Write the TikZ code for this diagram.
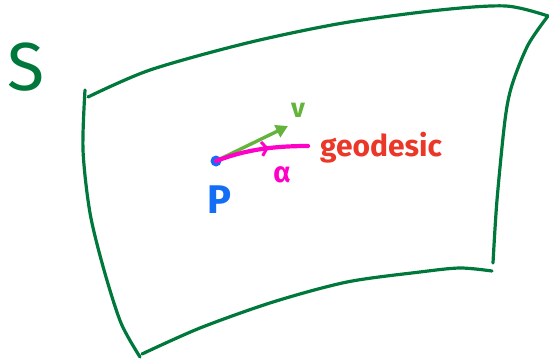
\documentclass[tikz,border=0pt]{standalone}
\usepackage{fontspec}
\setmainfont{Fira Sans}
\usepackage{xcolor}
\definecolor{SurfGreen}{RGB}{0,120,60}
\definecolor{VecGreen}{RGB}{100,180,60}
\definecolor{PointBlue}{RGB}{20,110,245}
\definecolor{CurveMagenta}{RGB}{255,0,200}
\definecolor{LabelRed}{RGB}{235,55,40}
\usetikzlibrary{arrows.meta,decorations.markings,calc}

\begin{document}
\begin{tikzpicture}[x=1pt,y=-1pt,line cap=round,line join=round,
  edge/.style={draw=SurfGreen,line width=3.2pt},
  hand/.style={inner sep=0pt,font=\bfseries\fontsize{#1}{#1}\selectfont}]
  \useasboundingbox (0,0) rectangle (549,360);
  \draw[edge] plot[smooth] coordinates {(88,97) (150,70) (247,43) (343,23) (440,10) (506,6) (548,16)};
  \draw[edge] plot[smooth] coordinates {(85,90) (83,150) (90,213) (104,270) (121,323) (140,357)};
  \draw[edge] plot[smooth] coordinates {(142,354) (200,328) (273,302) (347,282) (420,272) (460,268) (492,271)};
  \draw[edge] plot[smooth] coordinates {(548,16) (528,45) (512,85) (505,120) (497,200) (493,263)};
  \node[hand=68,SurfGreen,font=\mdseries\fontsize{68}{68}\selectfont] (S) at (26,67) {S};
  \node[circle,fill=PointBlue,inner sep=0pt,minimum size=11pt] (pdot) at (216,161) {};
  \coordinate (vtip) at (288,126);
  \coordinate (gend) at (308,146);
  \draw[VecGreen,line width=3.4pt,-{Triangle[length=12pt,width=13pt]}] (pdot.center) -- (vtip);
  \draw[CurveMagenta,line width=4.2pt,
    postaction={decorate,decoration={markings,
      mark=at position 0.58 with {\arrow[line width=3pt]{Straight Barb[length=5pt,width=14pt]}}}}]
    (pdot.center) .. controls (240,152) and (265,146) .. (gend);
  \node[hand=27,VecGreen] (v) at (298,110) {v};
  \node[hand=29,CurveMagenta] (alpha) at (282,175) {α};
  \node[hand=40,PointBlue] (P) at (219,200) {P};
  \node[hand=30,LabelRed,anchor=base west] (geo) at (320,156) {geodesic};
\end{tikzpicture}
\end{document}
